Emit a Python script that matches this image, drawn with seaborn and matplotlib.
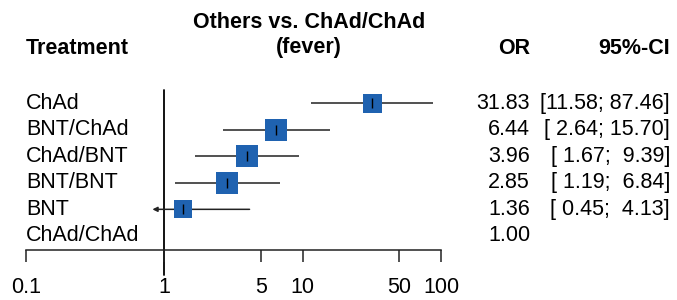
import matplotlib
matplotlib.use("Agg")

import matplotlib.pyplot as plt
import matplotlib.transforms as mtransforms
from matplotlib.ticker import FixedLocator, FixedFormatter, NullLocator
import pandas as pd
import seaborn as sns

# forest plot data
treatments = ["ChAd", "BNT/ChAd", "ChAd/BNT", "BNT/BNT", "BNT", "ChAd/ChAd"]
odds_ratio = [31.83, 6.44, 3.96, 2.85, 1.36, 1.00]
ci_lower = [11.58, 2.64, 1.67, 1.19, 0.45, None]
ci_upper = [87.46, 15.70, 9.39, 6.84, 4.13, None]
ci_text = ["[11.58; 87.46]", "[ 2.64; 15.70]", "[ 1.67;  9.39]",
           "[ 1.19;  6.84]", "[ 0.45;  4.13]", ""]
weights = [14.0, 18.5, 19.0, 19.0, 12.5, None]
tick_values = [0.1, 1, 5, 10, 50, 100]
tick_labels = ["0.1", "1", "5", "10", "50", "100"]

sns.set_style("white")
plt.rcParams["font.family"] = ["Liberation Sans", "DejaVu Sans"]
plt.rcParams["text.color"] = "black"
plt.rcParams["xtick.color"] = "black"

BOX = "#1f62b0"
LINE = "#222222"
FS = 15.5
W, H = 677, 300
clip_low = 0.82  # left end of the drawn CI region (arrow)

df = pd.DataFrame({
    "treatment": treatments,
    "OR": odds_ratio,
    "lower": ci_lower,
    "upper": ci_upper,
    "weight": weights,
})
df["row"] = range(len(df))
est = df.dropna(subset=["lower"])

fig = plt.figure(figsize=(W / 100, H / 100), dpi=100)
ax = fig.add_axes([26 / W, (H - 250) / H, 415 / W, 160 / H])
ax.set_xscale("log")
ax.set_xlim(0.1, 100)
ax.set_ylim(5.53, -0.49)

# confidence intervals
for _, r in est.iterrows():
    if r["lower"] < clip_low:
        ax.annotate("", xy=(clip_low, r["row"]), xytext=(r["upper"], r["row"]),
                    arrowprops=dict(arrowstyle="-|>", color=LINE, lw=1.1,
                                    mutation_scale=7, shrinkA=0, shrinkB=0),
                    zorder=1)
    else:
        ax.hlines(r["row"], r["lower"], r["upper"], color=LINE, lw=1.1, zorder=1)

sns.scatterplot(data=est, x="OR", y="row", size="weight", sizes=(166, 255),
                size_norm=(12.5, 19.0), marker="s", color=BOX, linewidth=0,
                legend=False, ax=ax, zorder=2)
sns.scatterplot(data=est, x="OR", y="row", marker="|", color="black", s=45,
                linewidth=1.0, legend=False, ax=ax, zorder=3)

ax.axvline(1, ymin=-0.156, ymax=1, color="black", lw=1.3, clip_on=False, zorder=0)

for side in ["top", "left", "right"]:
    ax.spines[side].set_visible(False)
ax.spines["bottom"].set_bounds(0.1, 100)
ax.spines["bottom"].set_color(LINE)
ax.spines["bottom"].set_linewidth(1.1)
ax.xaxis.set_major_locator(FixedLocator(tick_values))
ax.xaxis.set_major_formatter(FixedFormatter(tick_labels))
ax.xaxis.set_minor_locator(NullLocator())
ax.tick_params(axis="x", direction="out", length=8.6, width=1.1, color=LINE,
               pad=11, labelsize=FS, labelcolor="black", bottom=True)
ax.set_yticks([])
ax.set_xlabel("")
ax.set_ylabel("")

# text columns
trans = mtransforms.blended_transform_factory(fig.transFigure, ax.transData)
for i, name in enumerate(treatments):
    fig.text(26 / W, i, name, transform=trans, ha="left", va="center", fontsize=FS)
    fig.text(530 / W, i, f"{odds_ratio[i]:.2f}", transform=trans, ha="right",
             va="center", fontsize=FS)
    if ci_text[i]:
        fig.text(670 / W, i, ci_text[i], transform=trans, ha="right",
                 va="center", fontsize=FS)

fig.text(26 / W, 1 - 48 / H, "Treatment", ha="left", va="center",
         fontsize=FS, fontweight="bold")
fig.text(309 / W, 1 - 22 / H, "Others vs. ChAd/ChAd", ha="center", va="center",
         fontsize=FS, fontweight="bold")
fig.text(309 / W, 1 - 48 / H, "(fever)", ha="center", va="center",
         fontsize=FS, fontweight="bold")
fig.text(530 / W, 1 - 48 / H, "OR", ha="right", va="center",
         fontsize=FS, fontweight="bold")
fig.text(670 / W, 1 - 48 / H, "95%-CI", ha="right", va="center",
         fontsize=FS, fontweight="bold")

fig.savefig("out.png", dpi=100)
plt.close(fig)
